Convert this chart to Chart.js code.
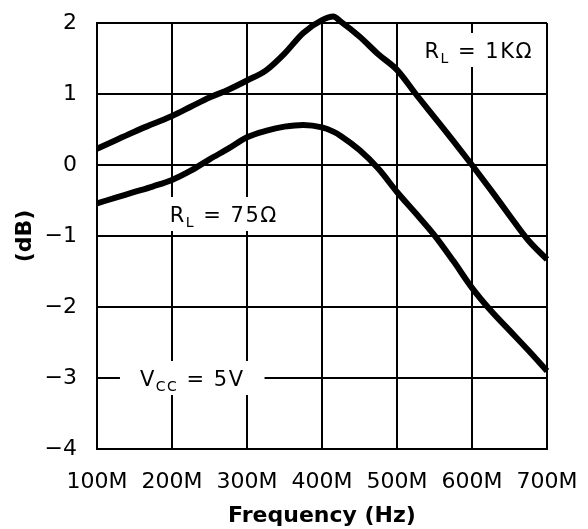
<!DOCTYPE html>
<html>
<head>
<meta charset="utf-8">
<script src="https://cdn.jsdelivr.net/npm/chart.js@4/dist/chart.umd.min.js"></script>
<style>
  html, body { margin: 0; padding: 0; background: #ffffff; }
  #wrap { position: relative; width: 588px; height: 529px; }
</style>
</head>
<body>
<div id="wrap"><canvas id="gain"></canvas></div>
<script>
// Frequency points (MHz) shared by both response curves
const freqMHz = [100, 125, 150, 175, 200, 225, 250, 275, 300, 325, 350, 375, 400,
                 415, 425, 450, 475, 500, 525, 550, 575, 600, 625, 650, 675, 700];

// Gain (dB) with a 1 kΩ load
const gain1k = [0.23, 0.35, 0.47, 0.58, 0.69, 0.82, 0.95, 1.06, 1.19, 1.33, 1.57, 1.86, 2.04,
                2.09, 2.02, 1.81, 1.56, 1.34, 1.00, 0.67, 0.34, 0.00, -0.35, -0.71, -1.06, -1.33];

// Gain (dB) with a 75 Ω load
const gain75 = [-0.54, -0.46, -0.38, -0.30, -0.21, -0.08, 0.08, 0.23, 0.39, 0.48, 0.54, 0.565, 0.53,
                0.47, 0.41, 0.21, -0.05, -0.38, -0.68, -0.99, -1.35, -1.73, -2.05, -2.33, -2.61, -2.90];

// Axis ticks
const xTicks = [100, 200, 300, 400, 500, 600, 700];
const yTicks = [2, 1, 0, -1, -2, -3, -4];

// Curve labels: text runs (with subscripts) anchored at a frequency / gain position
const callouts = [
  { parts: [['R'], ['L', 'sub'], [' = 1KΩ']], freq: 609, db: 1.62, padX: 6 },
  { parts: [['R'], ['L', 'sub'], [' = 75Ω']], freq: 269, db: -0.69, padX: 8 },
  { parts: [['V'], ['CC', 'sub'], [' = 5V']], freq: 227, db: -3.0, padX: 20 }
];

const toPoints = (ys) => freqMHz.map((f, i) => ({ x: f, y: ys[i] }));
const minus = (v) => (v < 0 ? '\u2212' + Math.abs(v) : String(v));

const FONT = 'DejaVu Sans';

// Keep the plot frame fixed: no extra room reserved for overhanging tick labels
const noOverhang = (s) => {
  s.paddingTop = 0;
  s.paddingBottom = 0;
  s.paddingLeft = 0;
  s.paddingRight = 0;
};

const calloutPlugin = {
  id: 'callouts',
  beforeDatasetsDraw(chart) {
    const { ctx, scales } = chart;
    const mainFont = '21px "' + FONT + '"';
    const subFont = '14px "' + FONT + '"';
    callouts.forEach((c) => {
      ctx.save();
      ctx.letterSpacing = '1.5px';
      let width = 0;
      const runs = c.parts.map(([t, kind]) => {
        ctx.font = kind === 'sub' ? subFont : mainFont;
        const w = ctx.measureText(t).width;
        width += w;
        return { t, kind, w };
      });
      const cx = scales.x.getPixelForValue(c.freq);
      const cy = scales.y.getPixelForValue(c.db);
      const halfH = 17;
      ctx.fillStyle = '#ffffff';
      ctx.fillRect(cx - width / 2 - c.padX, cy - halfH, width + c.padX * 2, halfH * 2);
      ctx.fillStyle = '#000000';
      ctx.textBaseline = 'alphabetic';
      ctx.textAlign = 'left';
      let x = cx - width / 2;
      const base = cy + 8;
      runs.forEach((r) => {
        ctx.font = r.kind === 'sub' ? subFont : mainFont;
        ctx.fillText(r.t, x, r.kind === 'sub' ? base + 5 : base);
        x += r.w;
      });
      ctx.restore();
    });
  }
};

const lineStyle = {
  borderColor: '#000000',
  borderWidth: 6,
  pointRadius: 0,
  pointHoverRadius: 0,
  fill: false,
  clip: false,
  cubicInterpolationMode: 'monotone'
};

new Chart(document.getElementById('gain'), {
  type: 'line',
  data: {
    datasets: [
      Object.assign({ label: 'RL = 1KΩ', data: toPoints(gain1k) }, lineStyle),
      Object.assign({ label: 'RL = 75Ω', data: toPoints(gain75) }, lineStyle)
    ]
  },
  options: {
    responsive: true,
    maintainAspectRatio: false,
    animation: false,
    layout: { autoPadding: false, padding: { left: 0, top: 23, right: 41, bottom: 0 } },
    plugins: { legend: { display: false }, tooltip: { enabled: false } },
    scales: {
      x: {
        type: 'linear',
        min: xTicks[0],
        max: xTicks[xTicks.length - 1],
        afterBuildTicks: (s) => { s.ticks = xTicks.map((v) => ({ value: v })); },
        afterFit: (s) => { s.height = 80; noOverhang(s); },
        grid: { color: '#000000', lineWidth: 2, drawTicks: false },
        border: { color: '#000000', width: 2 },
        ticks: {
          color: '#000000',
          padding: 20,
          maxRotation: 0,
          font: { family: FONT, size: 22 },
          callback: (v) => v + 'M'
        },
        title: {
          display: true,
          text: 'Frequency (Hz)',
          color: '#000000',
          padding: { top: 0, bottom: 0 },
          font: { family: FONT, size: 22, weight: 'bold' }
        }
      },
      y: {
        type: 'linear',
        min: yTicks[yTicks.length - 1],
        max: yTicks[0],
        afterBuildTicks: (s) => { s.ticks = yTicks.slice().reverse().map((v) => ({ value: v })); },
        afterFit: (s) => { s.width = 97; noOverhang(s); },
        grid: { color: '#000000', lineWidth: 2, drawTicks: false },
        border: { color: '#000000', width: 2 },
        ticks: {
          color: '#000000',
          padding: 20,
          font: { family: FONT, size: 22 },
          callback: (v) => minus(v)
        },
        title: {
          display: true,
          text: '(dB)',
          color: '#000000',
          padding: { top: 12, bottom: 0 },
          font: { family: FONT, size: 22, weight: 'bold' }
        }
      }
    }
  },
  plugins: [calloutPlugin]
});
</script>
</body>
</html>
